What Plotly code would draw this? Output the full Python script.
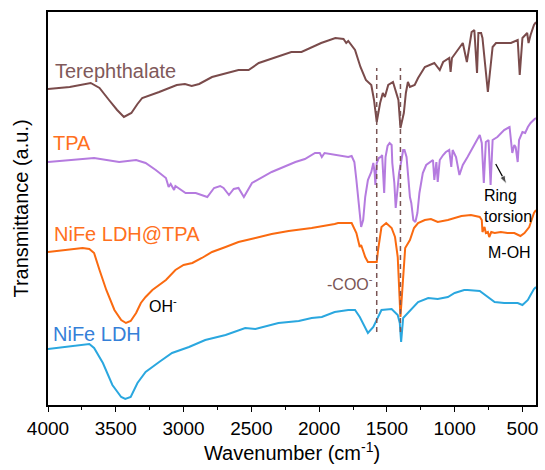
import plotly.graph_objects as go

# FTIR spectra (wavenumber in cm-1, transmittance in arbitrary offset units)
tere_wn = [4000, 3840, 3685, 3620, 3550, 3490, 3440, 3385, 3340, 3305, 3180, 3050, 2990, 2940,
           2885, 2790, 2595, 2520, 2445, 2205, 2130, 1985, 1880, 1820, 1800, 1785, 1735, 1695,
           1655, 1615, 1595, 1575, 1550, 1530, 1515, 1490, 1455, 1415, 1400, 1375, 1360, 1345,
           1330, 1295, 1270, 1220, 1150, 1110, 1085, 1040, 1030, 1020, 940, 910, 875, 855, 835,
           825, 805, 795, 755, 720, 695, 585, 535, 520, 500, 465, 455, 440, 415, 400]
tere_t = [316, 318, 322, 317, 305, 295, 288, 292, 301, 307, 313, 320, 321, 319,
          321, 328, 335, 335, 342, 353, 353, 362, 367, 366, 362, 364, 355, 338,
          325, 320, 305, 283, 302, 312, 308, 320, 323, 305, 277, 292, 312, 323,
          318, 320, 327, 338, 342, 335, 343, 347, 333, 347, 362, 343, 373, 375, 332,
          372, 372, 367, 313, 358, 362, 362, 365, 330, 367, 372, 362, 370, 380, 383]

tpa_wn = [4000, 3660, 3475, 3350, 3280, 3205, 3130, 3110, 3095, 3070, 3060, 2985, 2910, 2825,
          2775, 2730, 2705, 2665, 2630, 2595, 2555, 2495, 2350, 2175, 2105, 2030, 1995, 1980,
          1960, 1870, 1785, 1760, 1740, 1725, 1705, 1690, 1675, 1660, 1640, 1615, 1600, 1590,
          1585, 1575, 1560, 1545, 1535, 1520, 1510, 1495, 1480, 1465, 1460, 1445, 1435, 1425,
          1410, 1395, 1380, 1370, 1355, 1345, 1330, 1320, 1305, 1290, 1275, 1260, 1235, 1210,
          1185, 1160, 1150, 1135, 1125, 1110, 1085, 1065, 1040, 1025, 1015, 990, 965, 940, 905,
          855, 815, 800, 785, 770, 750, 735, 720, 685, 635, 595, 585, 575, 560, 550, 535, 525,
          500, 480, 460, 440, 410, 400]
tpa_t = [243, 247, 243, 245, 242, 235, 227, 218, 221, 215, 219, 212, 212, 208,
         217, 219, 217, 210, 216, 217, 208, 222, 233, 243, 246, 252, 252, 248,
         252, 250, 248, 249, 243, 225, 198, 178, 185, 208, 225, 233, 242, 232,
         220, 242, 247, 248, 250, 212, 248, 259, 262, 260, 242, 222, 197, 215,
         232, 243, 255, 255, 248, 232, 208, 202, 185, 183, 192, 212, 232, 240,
         243, 245, 225, 243, 223, 245, 250, 253, 255, 238, 255, 248, 230, 240, 248,
         260, 270, 262, 222, 263, 265, 220, 265, 268, 275, 278, 262, 252, 260, 258, 243, 265,
         273, 272, 278, 282, 286, 287]

ldh_tpa_wn = [4000, 3745, 3695, 3660, 3620, 3570, 3510, 3460, 3425, 3390, 3350, 3315, 3280, 3230,
              3130, 3060, 3000, 2935, 2865, 2790, 2690, 2595, 2470, 2350, 2225, 2055, 1885, 1860,
              1760, 1725, 1700, 1690, 1660, 1640, 1590, 1575, 1565, 1540, 1505, 1465, 1440, 1420,
              1400, 1380, 1365, 1330, 1300, 1270, 1220, 1175, 1125, 1050, 950, 880, 855, 815, 800,
              795, 780, 770, 755, 745, 730, 705, 660, 610, 560, 515, 485, 450, 415, 400]
ldh_tpa_t = [153, 157, 156, 152, 135, 115, 95, 85, 82, 84, 92, 102, 108, 115,
             125, 135, 140, 142, 147, 153, 158, 163, 167, 171, 174, 177, 181, 182,
             182, 172, 158, 160, 148, 143, 143, 143, 155, 178, 182, 177, 168, 148,
             88, 132, 157, 165, 177, 182, 185, 186, 183, 185, 189, 190, 189, 188, 185,
             173, 178, 172, 173, 168, 173, 172, 173, 172, 172, 169, 172, 178, 192, 195]

ldh_wn = [4000, 3695, 3660, 3595, 3525, 3460, 3430, 3390, 3340, 3280, 3180, 3085, 2960, 2840,
          2690, 2545, 2470, 2300, 2150, 2055, 1980, 1885, 1785, 1735, 1700, 1665, 1640, 1600,
          1575, 1540, 1465, 1420, 1405, 1395, 1380, 1345, 1320, 1270, 1195, 1125, 1050, 1000,
          930, 905, 815, 755, 705, 635, 535, 500, 460, 440, 415, 400]
ldh_t = [56, 61, 57, 42, 20, 8, 6, 8, 22, 33, 43, 52, 58, 65,
         70, 77, 76, 82, 84, 87, 88, 93, 95, 95, 88, 78, 72, 78,
         85, 95, 96, 90, 82, 63, 87, 92, 96, 103, 107, 106, 108, 112,
         115, 115, 114, 108, 103, 102, 102, 100, 105, 110, 116, 118]

# Carboxylate band guides
coo_wn = [1575, 1400]
coo_span = [73, 337]

# Arrow pointing at the ring-torsion band (tail -> head)
arrow_wn = [697, 617]
arrow_t = [241, 221]

tick_vals = [4000, 3500, 3000, 2500, 2000, 1500, 1000, 500]

FONT = "Arial, Liberation Sans, sans-serif"
BROWN = "#7A4B4B"
PURPLE = "#B57BDF"
ORANGE = "#FA6A10"
BLUE = "#2AA7DF"

fig = go.Figure()

series = [
    (tere_wn, tere_t, BROWN),
    (tpa_wn, tpa_t, PURPLE),
    (ldh_tpa_wn, ldh_tpa_t, ORANGE),
    (ldh_wn, ldh_t, BLUE),
]
for wn, t, c in series:
    fig.add_trace(go.Scatter(x=wn, y=t, mode="lines",
                             line=dict(color=c, width=2), showlegend=False,
                             hoverinfo="skip"))

for w in coo_wn:
    fig.add_trace(go.Scatter(x=[w, w], y=coo_span, mode="lines",
                             line=dict(color="#7A5555", width=1.5, dash="5px,4px"),
                             showlegend=False, hoverinfo="skip"))

fig.add_trace(go.Scatter(
    x=arrow_wn, y=arrow_t, mode="lines+markers",
    line=dict(color="black", width=1.2),
    marker=dict(symbol="arrow", size=[0, 9], color="black", angleref="previous"),
    showlegend=False, hoverinfo="skip"))

labels = [
    ("Terephthalate", 3960, 334, "#80595A"),
    ("TPA", 3976, 262.5, "#FF7020"),
    ("NiFe LDH@TPA", 3969, 171, "#FF7020"),
    ("NiFe LDH", 3976, 71, "#3580D8"),
]
for txt, x, y, c in labels:
    fig.add_annotation(x=x, y=y, text=txt, showarrow=False, xanchor="left",
                       yanchor="middle", font=dict(family=FONT, size=20, color=c))

fig.add_annotation(x=3270, y=100, text="OH<sup>-</sup>", showarrow=False,
                   xanchor="left", yanchor="middle",
                   font=dict(family=FONT, size=16, color="black"))
fig.add_annotation(x=1588, y=122, text="-COO<sup>-</sup>", showarrow=False,
                   xanchor="right", yanchor="middle",
                   font=dict(family=FONT, size=16, color="#7A5555"))
fig.add_annotation(x=795, y=199.5, text="Ring<br>torsion", showarrow=False,
                   xanchor="left", yanchor="middle", align="left",
                   font=dict(family=FONT, size=16, color="black"))
fig.add_annotation(x=771, y=152.5, text="M-OH", showarrow=False,
                   xanchor="left", yanchor="middle",
                   font=dict(family=FONT, size=16, color="black"))

fig.update_layout(
    width=545, height=470,
    margin=dict(l=48, r=7, t=12, b=65),
    paper_bgcolor="white", plot_bgcolor="white",
    font=dict(family=FONT, color="black"),
)
fig.update_xaxes(
    range=[4000, 400], tickvals=tick_vals, ticks="outside", ticklen=5,
    tickwidth=1.2, tickcolor="black",
    minor=dict(dtick=250, ticks="outside", ticklen=3, tickcolor="black", tickwidth=1),
    showline=True, linecolor="black", linewidth=1.5, mirror=True,
    showgrid=False, zeroline=False,
    tickfont=dict(family=FONT, size=19, color="black"),
    title=dict(text="Wavenumber (cm<sup>-1</sup>)", font=dict(family=FONT, size=20),
               standoff=6),
)
fig.update_yaxes(
    range=[0, 393], showticklabels=False, ticks="",
    showline=True, linecolor="black", linewidth=1.5, mirror=True,
    showgrid=False, zeroline=False,
    title=dict(text="Transmittance (a.u.)", font=dict(family=FONT, size=20),
               standoff=12),
)

fig.write_html("out.html")
